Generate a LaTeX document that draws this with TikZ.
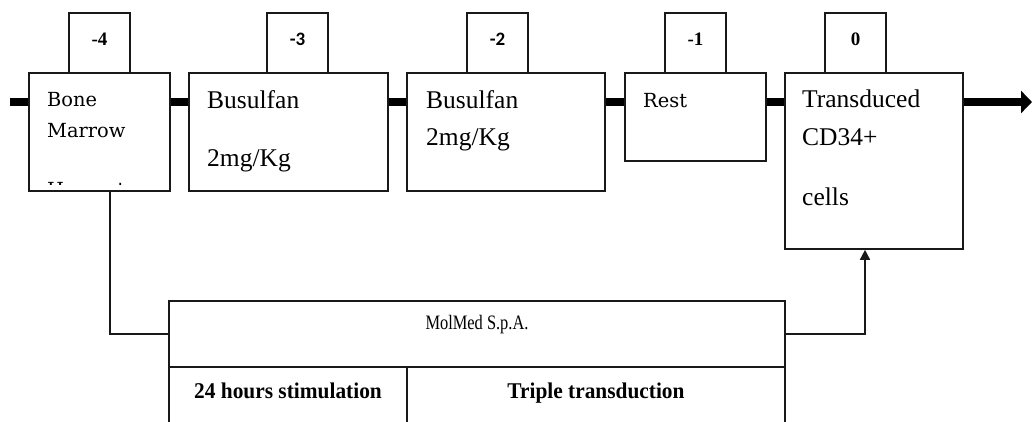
\documentclass[tikz,border=0pt]{standalone}
\usepackage{fontspec}
\setmainfont{Liberation Serif}
\newfontfamily\dvs{DejaVu Serif}
\newfontfamily\condf[FakeStretch=0.8]{Liberation Serif}
\newfontfamily\semif[FakeStretch=0.95]{Liberation Serif}
\newfontfamily\carl{Carlito}
\usetikzlibrary{arrows.meta}
\tikzset{
  box/.style={draw=black!90, line width=1.6pt, fill=white, inner sep=0pt, rectangle},
  txt/.style={anchor=base west, inner sep=0pt, text=black},
  big/.style={font=\fontsize{25.5}{30}\selectfont},
  small/.style={font=\dvs\fontsize{19.4}{23}\selectfont},
  daynum/.style={inner sep=0pt, font=\bfseries\fontsize{19}{22}\selectfont},
  sansnum/.style={inner sep=0pt, font=\carl\bfseries\fontsize{19}{22}\selectfont},
  timeline/.style={line width=8pt, black},
  thinline/.style={line width=1.6pt, black!90},
  ctxt/.style={inner sep=0pt, anchor=base}
}
\begin{document}
\begin{tikzpicture}[x=1pt,y=-1pt]
\clip (0,0) rectangle (1032,421);
\fill[white] (0,0) rectangle (1032,421);
% timeline coordinates
\coordinate (tlstart) at (10,102);
\coordinate (tlend) at (1032,102);
% main boxes
\node[box, minimum width=141pt, minimum height=118pt] (b1) at (99.5,132) {};
\node[box, minimum width=199pt, minimum height=118pt] (b2) at (288.5,132) {};
\node[box, minimum width=198pt, minimum height=118pt] (b3) at (506,132) {};
\node[box, minimum width=141pt, minimum height=88pt] (b4) at (695.5,117) {};
\node[box, minimum width=178pt, minimum height=176pt] (b5) at (874,161) {};
% timeline segments
\draw[timeline] (tlstart) -- (b1.west |- tlstart);
\draw[timeline] (b1.east |- tlstart) -- (b2.west |- tlstart);
\draw[timeline] (b2.east |- tlstart) -- (b3.west |- tlstart);
\draw[timeline] (b3.east |- tlstart) -- (b4.west |- tlstart);
\draw[timeline] (b4.east |- tlstart) -- (b5.west |- tlstart);
\draw[timeline, -{Triangle[length=11pt,width=22pt]}] (b5.east |- tlstart) -- (tlend);
% day boxes
\node[box, minimum width=61pt, minimum height=60pt] (d4) at (99.5,43) {};
\node[box, minimum width=61pt, minimum height=60pt] (d3) at (297.5,43) {};
\node[box, minimum width=61pt, minimum height=60pt] (d2) at (497.5,43) {};
\node[box, minimum width=61pt, minimum height=60pt] (d1) at (695.5,43) {};
\node[box, minimum width=61pt, minimum height=60pt] (d0) at (855.5,43) {};
\node[daynum] (n4) at (99.5,39) {-4};
\node[sansnum] (n3) at (297.5,39) {-3};
\node[sansnum] (n2) at (497.5,39) {-2};
\node[daynum] (n1) at (695.5,39) {-1};
\node[daynum] (n0) at (855.5,39) {0};
% box texts
\node[txt, small] (t1a) at (47,106) {Bone};
\node[txt, small] (t1b) at (47,137) {Marrow};
\begin{scope}
\clip (30,74) rectangle (169,184);
\node[txt, small] (t1c) at (47,196) {Harvest};
\end{scope}
\node[txt, big] (t2a) at (207,108) {Busulfan};
\node[txt, big] (t2b) at (207,166) {2mg/Kg};
\node[txt, big] (t3a) at (426,108) {Busulfan};
\node[txt, big] (t3b) at (426,145) {2mg/Kg};
\node[txt, small] (t4a) at (643,107) {Rest};
\node[txt, big] (t5a) at (802,107) {Transduced};
\node[txt, big] (t5b) at (802,145) {CD34+};
\node[txt, big] (t5c) at (802,205) {cells};
% MolMed table
\node[box, minimum width=616pt, minimum height=66pt] (mol) at (477,334) {};
\node[box, minimum width=238pt, minimum height=90pt] (cl) at (288,412) {};
\node[box, minimum width=378pt, minimum height=90pt] (cr) at (596,412) {};
\node[ctxt, font=\condf\fontsize{20.5}{24}\selectfont] (molt) at (477,329) {MolMed S.p.A.};
\node[ctxt, font=\semif\bfseries\fontsize{22.5}{26}\selectfont] (clt) at (288,398) {24 hours stimulation};
\node[ctxt, font=\semif\bfseries\fontsize{22.5}{26}\selectfont] (crt) at (596,398) {Triple transduction};
% connectors
\draw[thinline] ([xshift=-61pt]b1.south east) |- (mol.west);
\draw[thinline, -{Triangle[length=10pt,width=10pt]}] (mol.east) -| ([xshift=-9pt]b5.south);
\end{tikzpicture}
\end{document}
